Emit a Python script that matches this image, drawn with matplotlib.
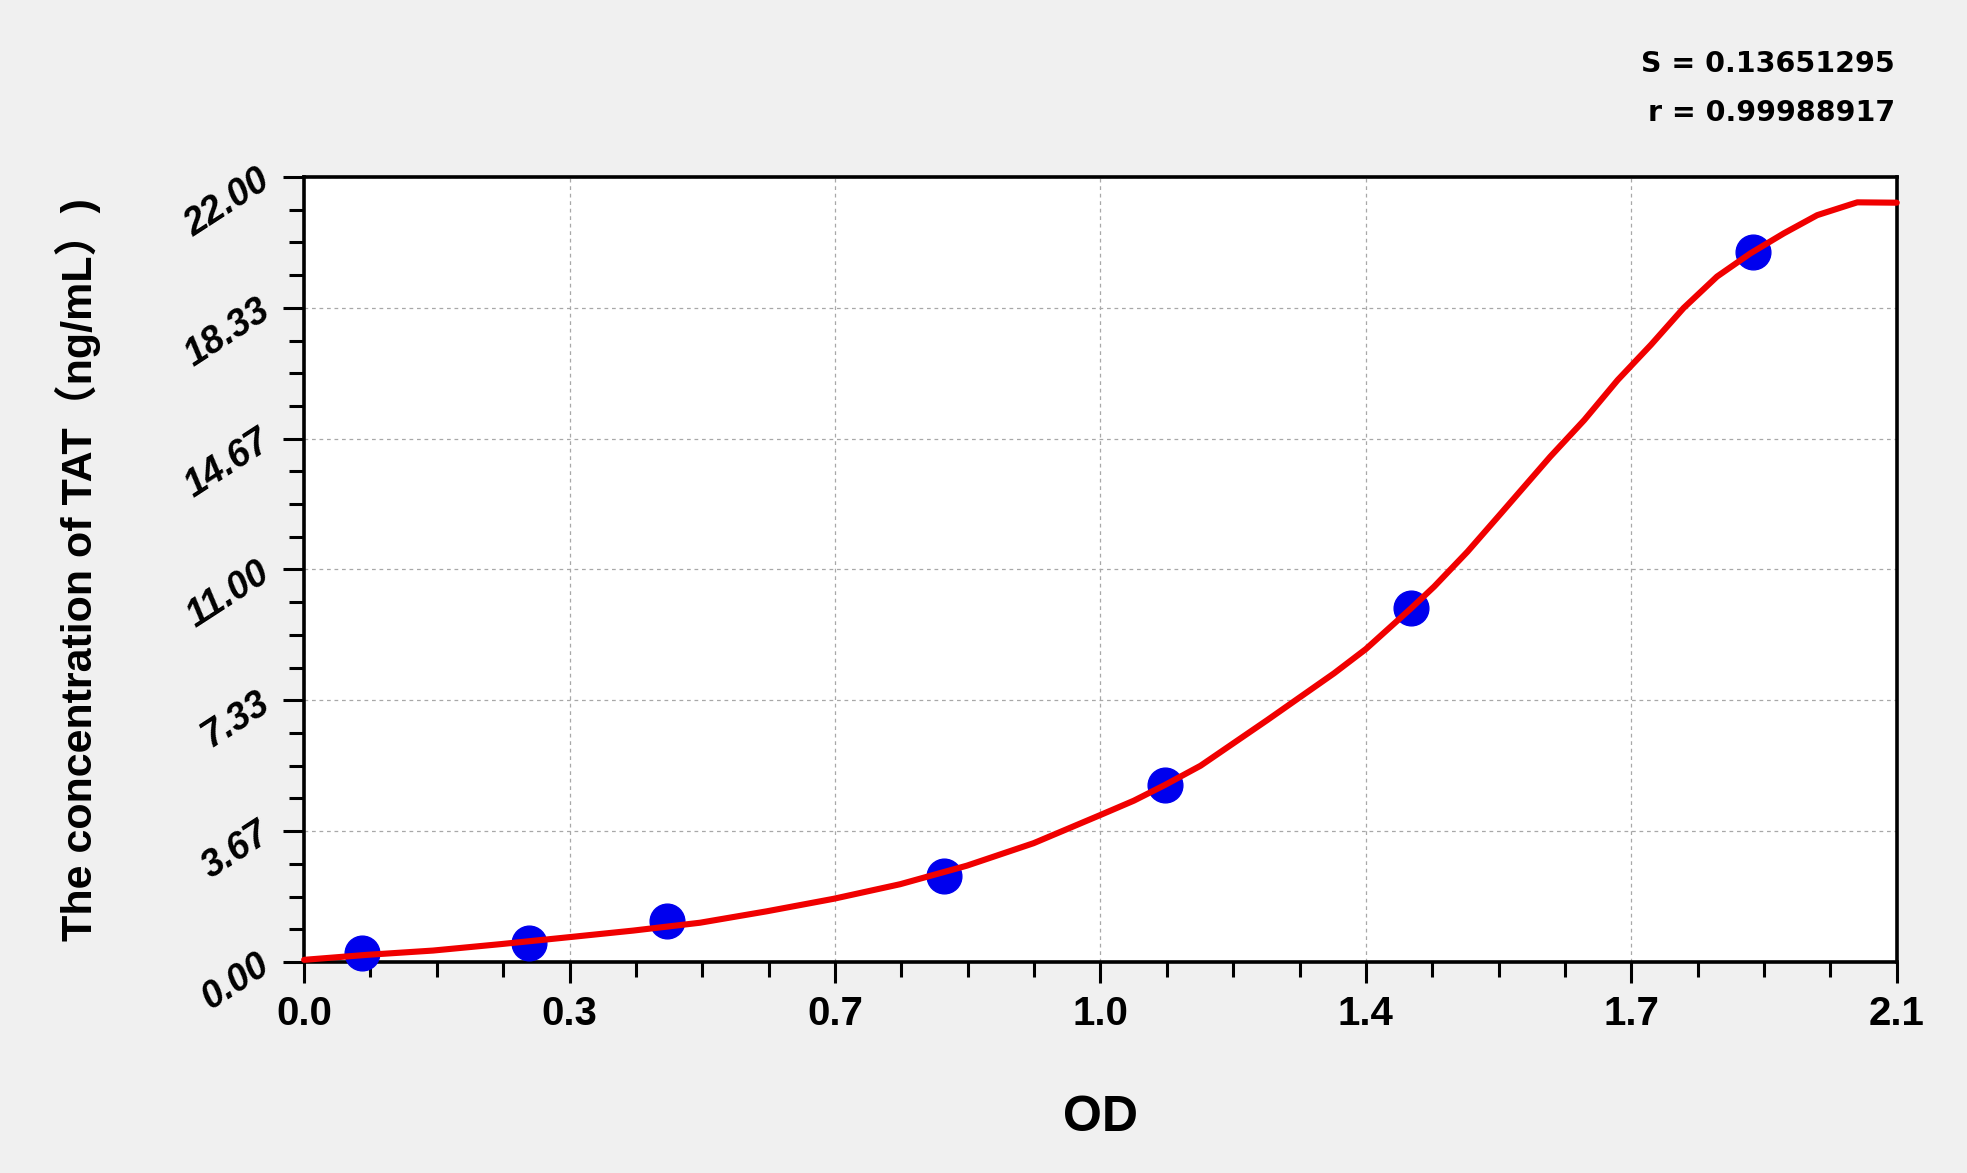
import matplotlib
matplotlib.use('Agg')
import matplotlib.pyplot as plt
from matplotlib import font_manager
from matplotlib.ticker import AutoMinorLocator

# standards (OD vs concentration)
od_pts = [0.077, 0.296, 0.478, 0.844, 1.135, 1.459, 1.910]
conc_pts = [0.24, 0.52, 1.15, 2.42, 4.96, 9.91, 19.91]

# fitted curve
od_curve = [0.0, 0.083, 0.170, 0.259, 0.347, 0.434, 0.522, 0.610, 0.698,
            0.786, 0.874, 0.962, 1.050, 1.094, 1.135, 1.182, 1.270, 1.358, 1.400,
            1.459, 1.490, 1.534, 1.578, 1.643, 1.688, 1.732, 1.776, 1.819, 1.863,
            1.907, 1.951, 1.995, 2.039, 2.048, 2.100]
conc_curve = [0.06, 0.20, 0.32, 0.50, 0.69, 0.88, 1.10, 1.42, 1.77,
              2.18, 2.70, 3.33, 4.12, 4.52, 4.96, 5.50, 6.78, 8.09, 8.77,
              9.90, 10.52, 11.50, 12.57, 14.16, 15.19, 16.31, 17.30, 18.33, 19.21,
              19.86, 20.42, 20.93, 21.23, 21.29, 21.28]

xticks = [0.0, 0.35, 0.7, 1.05, 1.4, 1.75, 2.1]
xlabels = ['0.0', '0.3', '0.7', '1.0', '1.4', '1.7', '2.1']
yticks = [0.0, 22 / 6, 44 / 6, 11.0, 88 / 6, 110 / 6, 22.0]
ylabels = ['0.00', '3.67', '7.33', '11.00', '14.67', '18.33', '22.00']

names = {f.name for f in font_manager.fontManager.ttflist}
narrow = 'Liberation Sans Narrow' if 'Liberation Sans Narrow' in names else 'Liberation Sans'

fig = plt.figure(figsize=(19.67, 11.73), dpi=100, facecolor='#f0f0f0')
ax = fig.add_axes([0.1546, 0.1799, 0.8097, 0.6692])
ax.set_facecolor('white')

ax.plot(od_pts, conc_pts, 'o', color='#0000ee', markersize=25, zorder=3, clip_on=False)
ax.plot(od_curve, conc_curve, '-', color='#f00000', lw=4.4, zorder=4,
        solid_capstyle='round', solid_joinstyle='round', clip_on=False)

ax.set_xlim(0, 2.1)
ax.set_ylim(0, 22)
ax.set_xticks(xticks)
ax.set_xticklabels(xlabels, fontsize=29, fontweight='bold', family=narrow)
ax.set_yticks(yticks)
ax.set_yticklabels(ylabels, fontsize=27, fontweight='bold', style='italic',
                   family='Liberation Sans')
ax.xaxis.set_minor_locator(AutoMinorLocator(4))
ax.yaxis.set_minor_locator(AutoMinorLocator(4))
ax.tick_params(which='major', direction='out', length=15, width=2.2, color='black')
ax.tick_params(which='minor', direction='out', length=11, width=2.2, color='black')
ax.tick_params(axis='x', which='major', pad=9)
ax.tick_params(axis='y', which='major', pad=12)
plt.setp(ax.get_yticklabels(), rotation=33, rotation_mode='anchor', ha='right', va='center')

for s in ax.spines.values():
    s.set_linewidth(2.6)
    s.set_color('black')

ax.grid(True, which='major', color='#a8a8a8', linestyle=(0, (3, 3)), lw=0.9)
ax.set_axisbelow(True)

ax.set_xlabel('OD', fontsize=36, fontweight='bold', family='Liberation Sans', va='baseline')
ax.xaxis.set_label_coords(0.5, -0.2153)
ax.set_ylabel('The concentration of TAT（ng/mL）)', fontsize=31, fontweight='bold',
              family=[narrow, 'Noto Sans CJK SC'], va='center')
ax.yaxis.set_label_coords(-0.142, 0.5)

fig.text(0.9634, 0.9386, 'S = 0.13651295', fontsize=20.5, fontweight='bold',
         family='DejaVu Sans', ha='right', va='baseline')
fig.text(0.9634, 0.8968, 'r = 0.99988917', fontsize=20.5, fontweight='bold',
         family='DejaVu Sans', ha='right', va='baseline')

fig.savefig('out.png', dpi=100, facecolor=fig.get_facecolor())
